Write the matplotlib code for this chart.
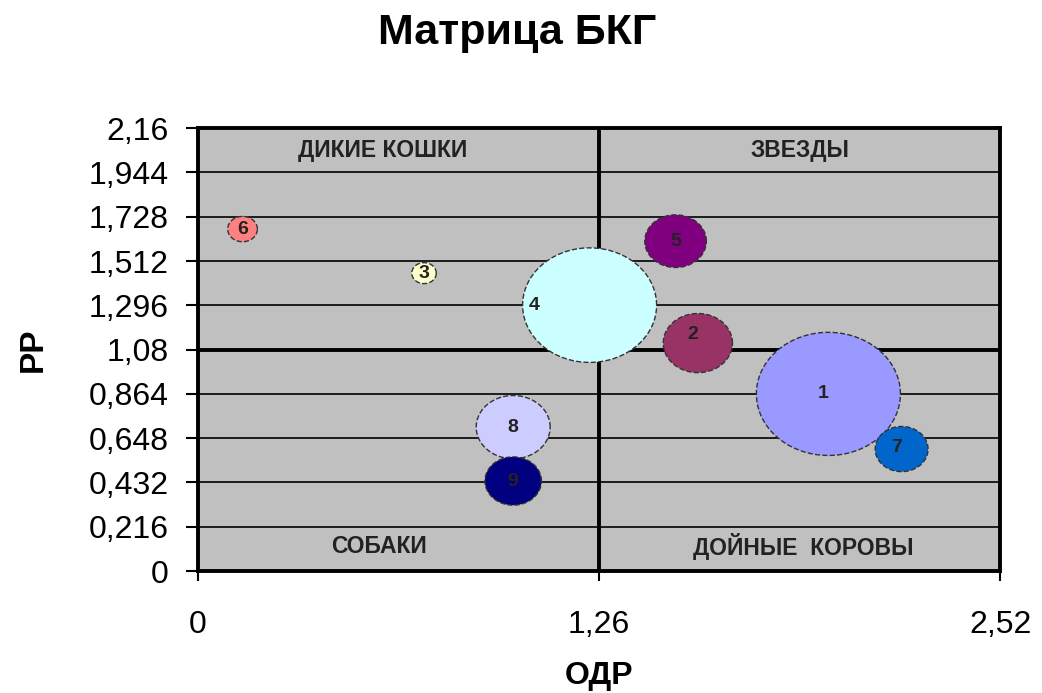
import matplotlib.pyplot as plt
import numpy as np
from matplotlib.markers import MarkerStyle
from matplotlib.path import Path

plt.rcParams['font.family'] = ['Liberation Sans', 'DejaVu Sans']

# products of the portfolio
names = ["1", "2", "3", "4", "5", "6", "7", "8", "9"]
odr = [1.98, 1.57, 0.71, 1.23, 1.50, 0.14, 2.21, 0.99, 0.99]      # relative market share
rr = [0.864, 1.112, 1.453, 1.297, 1.609, 1.668, 0.595, 0.702, 0.439]  # market growth
volume = [5.2, 1.2, 0.15, 4.5, 0.95, 0.22, 0.7, 1.37, 0.8]
colors = ["#9999FF", "#993366", "#FFFFCC", "#CCFFFF", "#800080",
          "#FF8080", "#0066CC", "#CCCCFF", "#000080"]

y_ticks = [0, 0.216, 0.432, 0.648, 0.864, 1.08, 1.296, 1.512, 1.728, 1.944, 2.16]
x_ticks = [0, 1.26, 2.52]
x_mid, y_mid = 1.26, 1.08

quadrants = [
    ("ДИКИЕ КОШКИ", 0.23, 0.95),
    ("ЗВЕЗДЫ", 0.75, 0.95),
    ("СОБАКИ", 0.225, 0.055),
    ("ДОЙНЫЕ  КОРОВЫ", 0.755, 0.055),
]


def fmt(v):
    return f"{v:g}".replace(".", ",")


def main():
    fig = plt.figure(figsize=(10.42, 6.93), dpi=100)
    ax = fig.add_axes([0.190, 0.176, 0.770, 0.639])
    ax.set_facecolor("#C0C0C0")

    # the bubbles are slightly wider than tall in the original
    t = np.linspace(0, 2 * np.pi, 80)
    ell = Path(np.column_stack([np.cos(t), np.sin(t) / 1.17]), closed=True)

    sizes = [2070 * v for v in volume]
    ax.scatter(odr, rr, s=sizes, c=colors, marker=MarkerStyle(ell),
               edgecolors="#333333", linewidths=1.0, linestyles="--", zorder=3)

    offsets = {"1": (-4, 0), "2": (-4, 6), "4": (-40, 0), "7": (-4, 1)}
    for name, x, y in zip(names, odr, rr):
        dx, dy = offsets.get(name, (0, 0))
        ax.annotate(name, (x, y), xytext=(dx, dy), textcoords="offset points",
                    ha="center", va="center", fontsize=14, fontweight="bold",
                    color="#222222", zorder=4)

    ax.set_xlim(0, 2.52)
    ax.set_ylim(0, 2.16)
    ax.set_yticks(y_ticks)
    ax.set_yticklabels([fmt(v) for v in y_ticks])
    ax.set_xticks(x_ticks)
    ax.set_xticklabels([fmt(v) for v in x_ticks])
    ax.tick_params(axis="y", labelsize=23, length=9, width=1.5, pad=12)
    ax.tick_params(axis="x", labelsize=23, length=7, width=1.5, pad=21)

    for y in y_ticks[1:-1]:
        ax.axhline(y, color="black", lw=1.2, zorder=1)
    ax.axhline(y_mid, color="black", lw=2.8, zorder=2)
    ax.axvline(x_mid, color="black", lw=2.8, zorder=2)
    for sp in ax.spines.values():
        sp.set_linewidth(2.8)

    for label, qx, qy in quadrants:
        ax.text(qx, qy, label, transform=ax.transAxes, ha="center", va="center",
                fontsize=16.5, fontweight="bold", color="#222222")

    ax.set_xlabel("ОДР", fontsize=23, fontweight="bold", labelpad=15)
    ax.set_ylabel("РР", fontsize=24, fontweight="bold", labelpad=29)
    fig.text(0.496, 0.952, "Матрица БКГ", fontsize=31, fontweight="bold",
             ha="center", va="center")

    fig.savefig("out.png", dpi=100)


if __name__ == "__main__":
    main()
